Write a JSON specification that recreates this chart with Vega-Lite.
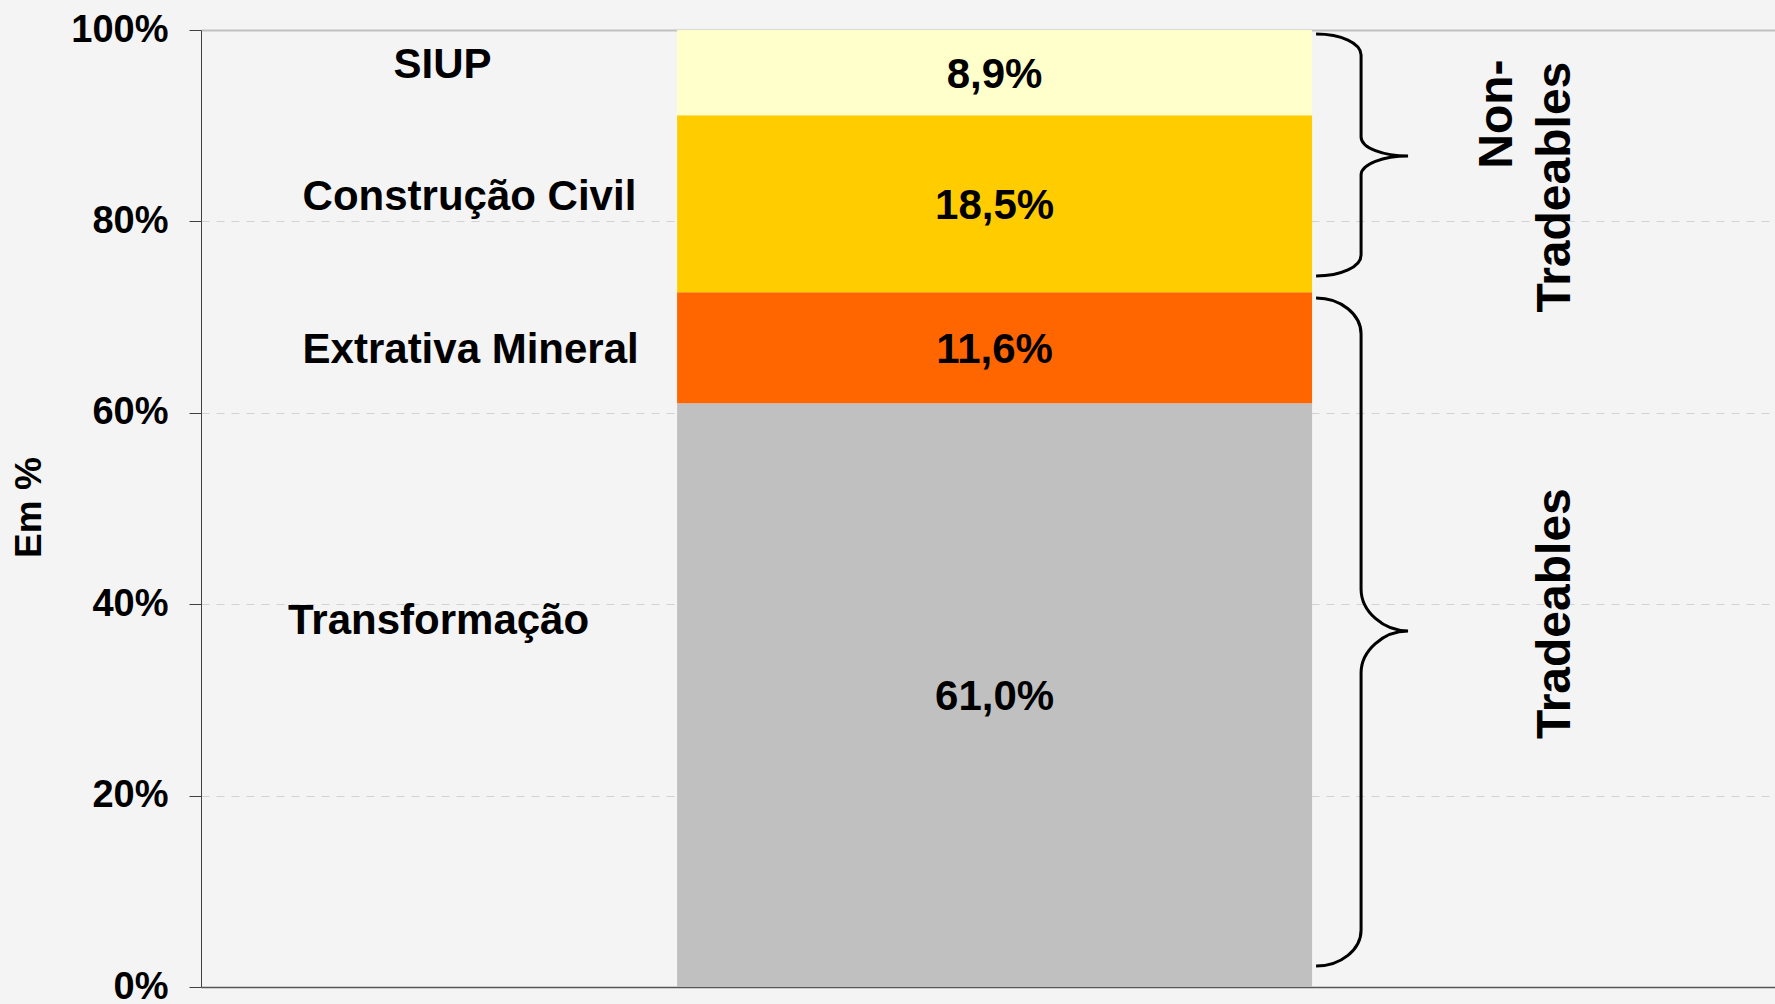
{
  "$schema": "https://vega.github.io/schema/vega-lite/v6.json",
  "width": 1574,
  "height": 957,
  "autosize": {"type": "none"},
  "padding": {"left": 201, "top": 30, "right": 0, "bottom": 17},
  "background": "#f4f4f4",
  "config": {
    "view": {"stroke": null},
    "font": "Liberation Sans",
    "text": {"font": "Liberation Sans", "fontWeight": "bold", "color": "black"}
  },
  "data": {
    "values": [
      {"setor": "Transformação", "share": 61.0, "grupo": "Tradeables", "ordem": 1, "barra": "Indústria"},
      {"setor": "Extrativa Mineral", "share": 11.6, "grupo": "Tradeables", "ordem": 2, "barra": "Indústria"},
      {"setor": "Construção Civil", "share": 18.5, "grupo": "Non-Tradeables", "ordem": 3, "barra": "Indústria"},
      {"setor": "SIUP", "share": 8.9, "grupo": "Non-Tradeables", "ordem": 4, "barra": "Indústria"}
    ]
  },
  "transform": [
    {"stack": "share", "groupby": ["barra"], "sort": [{"field": "ordem", "order": "ascending"}], "as": ["s0", "s1"]},
    {"calculate": "(datum.s0 + datum.s1) / 2", "as": "mid"},
    {"calculate": "replace(format(datum.share, '.1f'), '.', ',') + '%'", "as": "rotulo"}
  ],
  "encoding": {
    "x": {
      "field": "barra",
      "type": "nominal",
      "scale": {"paddingInner": 0, "paddingOuter": 0.7394, "align": 0.507},
      "axis": {"title": null, "labels": false, "ticks": false, "domain": true, "domainColor": "#555555", "domainWidth": 1.5, "grid": false}
    }
  },
  "layer": [
    {
      "mark": {"type": "bar"},
      "encoding": {
        "y": {
          "field": "s0",
          "type": "quantitative",
          "scale": {"domain": [0, 100], "nice": false},
          "axis": {
            "title": "Em %",
            "values": [0, 20, 40, 60, 80, 100],
            "labelExpr": "datum.value + '%'",
            "labelFont": "Liberation Sans",
            "labelFontWeight": "bold",
            "labelFontSize": 38,
            "labelColor": "black",
            "labelPadding": 21,
            "labelBaseline": "middle",
            "labelAlign": "right",
            "tickSize": 12,
            "tickColor": "#404040",
            "domainColor": "#404040",
            "domainWidth": 1,
            "grid": true,
            "gridColor": {"condition": {"test": "datum.value === 100", "value": "#c0c0c0"}, "value": "#d2d2d2"},
            "gridDash": {"condition": {"test": "datum.value === 100", "value": []}, "value": [8, 7]},
            "gridWidth": {"condition": {"test": "datum.value === 100", "value": 2}, "value": 1},
            "gridOpacity": {"condition": {"test": "datum.value === 0", "value": 0}, "value": 1},
            "titleFont": "Liberation Sans",
            "titleFontWeight": "bold",
            "titleFontSize": 37,
            "titleColor": "black",
            "titleAngle": 270,
            "titleX": -172,
            "titleY": 477,
            "titleAlign": "center",
            "titleBaseline": "middle"
          }
        },
        "y2": {"field": "s1"},
        "color": {
          "field": "setor",
          "type": "nominal",
          "scale": {"domain": ["SIUP", "Construção Civil", "Extrativa Mineral", "Transformação"], "range": ["#FFFFCC", "#FFCC00", "#FF6600", "#C0C0C0"]},
          "legend": null
        }
      }
    },
    {
      "mark": {"type": "text", "fontSize": 42, "align": "center", "baseline": "middle", "dy": 2},
      "encoding": {"y": {"field": "mid", "type": "quantitative"}, "text": {"field": "rotulo"}}
    },
    {
      "transform": [{"filter": "datum.setor === 'SIUP'"}],
      "mark": {"type": "text", "fontSize": 42, "align": "center", "baseline": "middle", "dx": -552, "dy": -8},
      "encoding": {"y": {"field": "mid", "type": "quantitative"}, "text": {"field": "setor"}}
    },
    {
      "transform": [{"filter": "datum.setor === 'Construção Civil'"}],
      "mark": {"type": "text", "fontSize": 42, "align": "left", "baseline": "middle", "dx": -692, "dy": -7},
      "encoding": {"y": {"field": "mid", "type": "quantitative"}, "text": {"field": "setor"}}
    },
    {
      "transform": [{"filter": "datum.setor === 'Extrativa Mineral'"}],
      "mark": {"type": "text", "fontSize": 42, "align": "left", "baseline": "middle", "dx": -692, "dy": 2},
      "encoding": {"y": {"field": "mid", "type": "quantitative"}, "text": {"field": "setor"}}
    },
    {
      "transform": [{"filter": "datum.setor === 'Transformação'"}],
      "mark": {"type": "text", "fontSize": 42, "align": "center", "baseline": "middle", "dx": -556, "dy": -74},
      "encoding": {"y": {"field": "mid", "type": "quantitative"}, "text": {"field": "setor"}}
    },
    {
      "transform": [
        {"aggregate": [{"op": "sum", "field": "share", "as": "total"}, {"op": "min", "field": "ordem", "as": "ord"}], "groupby": ["grupo", "barra"]},
        {"stack": "total", "groupby": ["barra"], "sort": [{"field": "ord", "order": "ascending"}], "as": ["g0", "g1"]},
        {"calculate": "(datum.g0 + datum.g1) / 2", "as": "gmid"}
      ],
      "layer": [
        {
          "mark": {"type": "point", "filled": false, "stroke": "black", "strokeWidth": 3, "opacity": 1, "size": 40000},
          "encoding": {
            "y": {"field": "gmid", "type": "quantitative"},
            "shape": {
              "field": "grupo",
              "type": "nominal",
              "scale": {
                "domain": ["Tradeables", "Non-Tradeables"],
                "range": [
                  "M 3.215 -3.416 C 3.465 -3.416 3.665 -3.25 3.665 -3.056 L 3.665 -0.506 C 3.665 -0.28 3.89 -0.086 4.135 -0.086 C 3.89 -0.086 3.665 0.108 3.665 0.334 L 3.665 2.904 C 3.665 3.1 3.465 3.264 3.215 3.264",
                  "M 3.215 -1.271 C 3.465 -1.271 3.665 -1.18 3.665 -1.061 L 3.665 -0.241 C 3.665 -0.13 3.89 -0.051 4.135 -0.051 C 3.89 -0.051 3.665 0.028 3.665 0.139 L 3.665 0.939 C 3.665 1.058 3.465 1.149 3.215 1.149"
                ]
              },
              "legend": null
            }
          }
        },
        {
          "transform": [{"filter": "datum.grupo === 'Non-Tradeables'"}],
          "mark": {"type": "text", "text": "Non-", "angle": 270, "fontSize": 48, "align": "center", "baseline": "middle", "dx": 47, "dy": 503},
          "encoding": {"y": {"field": "gmid", "type": "quantitative"}}
        },
        {
          "transform": [{"filter": "datum.grupo === 'Non-Tradeables'"}],
          "mark": {"type": "text", "text": "Tradeables", "angle": 270, "fontSize": 48, "align": "center", "baseline": "middle", "dx": -26, "dy": 561},
          "encoding": {"y": {"field": "gmid", "type": "quantitative"}}
        },
        {
          "transform": [{"filter": "datum.grupo === 'Tradeables'"}],
          "mark": {"type": "text", "text": "Tradeables", "angle": 270, "fontSize": 48, "align": "center", "baseline": "middle", "dx": 26, "dy": 561},
          "encoding": {"y": {"field": "gmid", "type": "quantitative"}}
        }
      ]
    }
  ]
}
